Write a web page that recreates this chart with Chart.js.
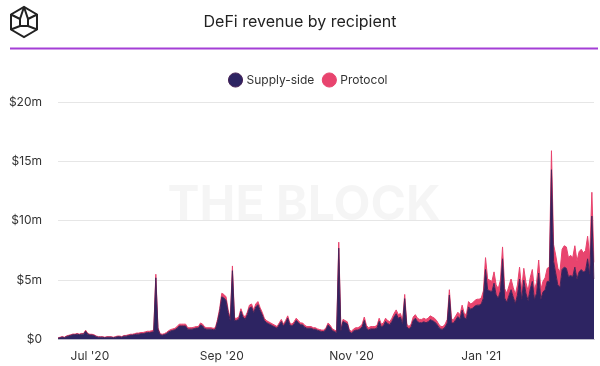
<!DOCTYPE html>
<html>
<head>
<meta charset="utf-8">
<script src="https://cdn.jsdelivr.net/npm/chart.js@4/dist/chart.umd.min.js"></script>
<style>
  html, body { margin: 0; padding: 0; background: #fff; }
  #wrap { position: relative; width: 600px; height: 366px; }
</style>
</head>
<body>
<div id="wrap"><canvas id="c" width="600" height="366"></canvas></div>
<script>
// Daily revenue in $m, starting 16 Jun 2020 (one value per day).
const START_DATE = '2020-06-16';

const supplySide = [
  // Jun 16-30
  0.11, 0.16, 0.21, 0.16, 0.26, 0.31, 0.36, 0.41, 0.41, 0.46, 0.41, 0.46, 0.46, 0.71, 0.46,
  // Jul
  0.39, 0.39, 0.34, 0.25, 0.2, 0.2, 0.2, 0.15, 0.2, 0.2, 0.2, 0.15, 0.2, 0.24, 0.24, 0.2,
  0.29, 0.29, 0.33, 0.38, 0.38, 0.42, 0.46, 0.46, 0.5, 0.5, 0.55, 0.59, 0.59, 0.63, 0.67,
  // Aug
  5.2, 0.88, 0.42, 0.37, 0.42, 0.5, 0.65, 0.73, 0.78, 0.83, 0.96, 1.15, 1.15, 1.15, 1.15, 0.88,
  0.88, 0.88, 0.92, 0.97, 0.97, 1.24, 1.15, 0.92, 0.88, 0.88, 0.88, 0.83, 0.88, 1.52, 2.35,
  // Sep
  3.6, 3.5, 3.3, 2.28, 1.62, 5.8, 1.62, 1.62, 1.72, 2.38, 1.9, 1.72, 2.1, 2.66, 2.75,
  2.28, 2.75, 2.94, 2.48, 2.1, 1.62, 1.43, 1.34, 1.25, 1.15, 1.06, 0.96, 1.25, 1.53, 1.15,
  // Oct
  1.43, 1.8, 1.24, 1.15, 1.34, 1.62, 1.43, 1.24, 1.24, 1.05, 0.96, 0.96, 0.96, 0.87, 0.87, 0.78,
  0.73, 0.68, 0.68, 0.87, 1.24, 1.05, 0.77, 0.68, 0.58, 7.7, 0.77, 1.52, 1.43, 1.33, 0.68,
  // Nov
  0.55, 0.72, 0.8, 0.8, 0.9, 1.08, 1.62, 0.98, 0.8, 0.9, 0.9, 0.9, 0.98, 1.54, 1.08,
  1.17, 1.54, 1.35, 1.26, 1.54, 1.9, 2.18, 1.8, 1.9, 1.35, 3.45, 1.08, 0.9, 1.08, 1.62,
  // Dec
  1.8, 1.52, 1.42, 1.42, 1.5, 1.42, 1.5, 1.68, 1.6, 1.5, 1.32, 1.05, 0.88, 0.88, 1.05, 1.4,
  3.75, 1.4, 1.4, 1.67, 1.94, 1.76, 2.48, 1.84, 1.75, 2.75, 2.56, 2.65, 2.82, 2.9, 2.9,
  // Jan
  3.0, 3.5, 5.9, 4.2, 4.1, 4.05, 4.75, 3.75, 3.5, 4.1, 6.8, 3.5, 3.15, 3.7, 4.2, 3.6,
  3.05, 3.75, 5.1, 3.4, 5.0, 3.9, 3.3, 4.25, 4.9, 3.4, 3.9, 5.6, 3.4, 4.0, 4.2,
  // Feb 1-23
  4.9, 4.9, 14.3, 6.6, 5.6, 4.6, 4.4, 5.9, 6.1, 6.0, 5.3, 5.4, 5.3, 6.1, 5.1, 5.7,
  5.9, 5.7, 5.8, 6.8, 5.5, 10.4, 5.1,
];

const protocol = [
  // Jun 16-30
  0.04, 0.04, 0.05, 0.04, 0.05, 0.05, 0.05, 0.06, 0.05, 0.06, 0.05, 0.06, 0.05, 0.08, 0.06,
  // Jul
  0.06, 0.06, 0.06, 0.05, 0.05, 0.05, 0.05, 0.05, 0.05, 0.05, 0.05, 0.05, 0.05, 0.06, 0.06, 0.05,
  0.06, 0.06, 0.07, 0.07, 0.07, 0.08, 0.09, 0.09, 0.1, 0.1, 0.1, 0.11, 0.11, 0.12, 0.13,
  // Aug
  0.3, 0.12, 0.08, 0.08, 0.08, 0.1, 0.1, 0.12, 0.12, 0.12, 0.14, 0.15, 0.15, 0.15, 0.15, 0.12,
  0.12, 0.12, 0.13, 0.13, 0.13, 0.16, 0.15, 0.13, 0.12, 0.12, 0.12, 0.12, 0.12, 0.18, 0.25,
  // Sep
  0.3, 0.3, 0.3, 0.22, 0.18, 0.4, 0.18, 0.18, 0.18, 0.22, 0.2, 0.18, 0.2, 0.24, 0.25,
  0.22, 0.25, 0.26, 0.22, 0.2, 0.18, 0.17, 0.16, 0.15, 0.15, 0.14, 0.14, 0.15, 0.17, 0.15,
  // Oct
  0.17, 0.2, 0.16, 0.15, 0.16, 0.18, 0.17, 0.16, 0.16, 0.15, 0.14, 0.14, 0.14, 0.13, 0.13, 0.12,
  0.12, 0.12, 0.12, 0.13, 0.16, 0.15, 0.13, 0.12, 0.12, 0.5, 0.13, 0.18, 0.17, 0.17, 0.12,
  // Nov
  0.15, 0.18, 0.2, 0.2, 0.2, 0.22, 0.28, 0.22, 0.2, 0.2, 0.2, 0.2, 0.22, 0.26, 0.22,
  0.23, 0.26, 0.25, 0.24, 0.26, 0.3, 0.32, 0.3, 0.3, 0.25, 0.35, 0.22, 0.2, 0.22, 0.28,
  // Dec
  0.3, 0.28, 0.28, 0.28, 0.3, 0.28, 0.3, 0.32, 0.3, 0.3, 0.28, 0.25, 0.22, 0.22, 0.25, 0.3,
  0.45, 0.3, 0.3, 0.33, 0.36, 0.34, 0.42, 0.36, 0.35, 0.45, 0.44, 0.45, 0.48, 0.5, 0.5,
  // Jan
  0.5, 0.6, 1.0, 0.9, 0.9, 0.85, 0.95, 0.85, 0.8, 0.9, 1.0, 0.8, 0.75, 0.8, 0.9, 0.8,
  0.75, 0.85, 1.0, 0.8, 1.0, 0.9, 0.8, 0.95, 1.0, 0.8, 0.9, 1.1, 0.8, 0.9, 1.0,
  // Feb 1-23
  1.1, 1.2, 1.6, 1.4, 1.5, 1.4, 1.3, 1.7, 1.8, 1.8, 1.6, 1.7, 1.6, 1.8, 1.5, 1.7,
  1.7, 1.6, 1.7, 1.9, 1.5, 2.0, 1.4,
];

const yTicks = [0, 5, 10, 15, 20];
const xTickMonths = [7, 9, 11, 1]; // month starts that get a label
const MONTHS = ['Jan', 'Feb', 'Mar', 'Apr', 'May', 'Jun', 'Jul', 'Aug', 'Sep', 'Oct', 'Nov', 'Dec'];

const NAVY = '#2d2462';
const PINK = '#e8446e';
const FONT = 'Inter, "Noto Sans", sans-serif';

// one ISO date per value
const dates = supplySide.map((_, i) => {
  const d = new Date(START_DATE + 'T00:00:00Z');
  d.setUTCDate(d.getUTCDate() + i);
  return d.toISOString().slice(0, 10);
});

// header: logo, title and purple rule, plus the faint watermark
const decor = {
  id: 'decor',
  beforeInit(chart) {
    // a little more room between legend and plot
    const lg = chart.legend;
    if (lg) {
      const fit = lg.fit;
      lg.fit = function () { fit.call(this); this.height += 6; };
    }
  },
  afterLayout(chart) {
    // legend sits slightly right of the canvas centre in the original
    if (chart.legend) { chart.legend.left += 12; chart.legend.right += 12; }
  },
  beforeDatasetsDraw(chart) {
    const { ctx } = chart;
    ctx.save();
    ctx.fillStyle = 'rgba(0,0,0,0.04)';
    ctx.font = 'bold 48px ' + FONT;
    ctx.textAlign = 'center';
    ctx.textBaseline = 'middle';
    ctx.fillText('THE BLOCK', 304, 206);
    ctx.restore();
  },
  afterDraw(chart) {
    const { ctx } = chart;
    ctx.save();
    ctx.fillStyle = '#222';
    ctx.font = '16px ' + FONT;
    ctx.textAlign = 'center';
    ctx.textBaseline = 'middle';
    ctx.fillText('DeFi revenue by recipient', 300, 22);

    ctx.strokeStyle = '#a43fd6';
    ctx.lineWidth = 2;
    ctx.beginPath();
    ctx.moveTo(10, 48.5);
    ctx.lineTo(598, 48.5);
    ctx.stroke();

    // cube logo
    const cx = 24, cy = 22, r = 15;
    ctx.strokeStyle = '#222';
    ctx.lineWidth = 2;
    ctx.beginPath();
    for (let k = 0; k < 6; k++) {
      const a = Math.PI / 6 + k * Math.PI / 3;
      const px = cx + r * Math.cos(a), py = cy + r * Math.sin(a);
      k ? ctx.lineTo(px, py) : ctx.moveTo(px, py);
    }
    ctx.closePath();
    ctx.stroke();
    ctx.beginPath();
    ctx.moveTo(cx, cy - r); ctx.lineTo(cx - 4, cy - 3);
    ctx.moveTo(cx, cy - r); ctx.lineTo(cx + 4, cy - 3);
    ctx.moveTo(cx - r * 0.87, cy - r / 2); ctx.lineTo(cx - 4, cy - 3);
    ctx.moveTo(cx + r * 0.87, cy - r / 2); ctx.lineTo(cx + 4, cy - 3);
    ctx.moveTo(cx - 4, cy - 3); ctx.lineTo(cx - 4, cy + 4); ctx.lineTo(cx + 4, cy + 4); ctx.lineTo(cx + 4, cy - 3);
    ctx.moveTo(cx - 4, cy + 4); ctx.lineTo(cx - r * 0.87, cy + r / 2);
    ctx.moveTo(cx + 4, cy + 4); ctx.lineTo(cx + r * 0.87, cy + r / 2);
    ctx.stroke();
    ctx.restore();
  },
};

new Chart(document.getElementById('c'), {
  type: 'line',
  data: {
    labels: dates,
    datasets: [
      {
        label: 'Supply-side',
        data: supplySide,
        backgroundColor: NAVY,
        borderColor: '#4a2458',
        borderWidth: 1,
        fill: 'origin',
        pointRadius: 0,
        pointStyle: 'circle',
        tension: 0,
      },
      {
        label: 'Protocol',
        data: protocol,
        backgroundColor: PINK,
        borderColor: PINK,
        borderWidth: 1,
        fill: '-1',
        pointRadius: 0,
        pointStyle: 'circle',
        tension: 0,
      },
    ],
  },
  options: {
    responsive: false,
    animation: false,
    layout: { padding: { top: 64, right: 6, left: 0, bottom: 0 } },
    plugins: {
      legend: {
        position: 'top',
        labels: {
          usePointStyle: true,
          boxWidth: 10,
          boxHeight: 10,
          padding: 10,
          color: '#333',
          font: { family: FONT, size: 12 },
        },
      },
      tooltip: { enabled: false },
    },
    scales: {
      x: {
        grid: { display: false },
        border: { display: true, color: '#cfcfd6' },
        ticks: {
          autoSkip: false,
          maxRotation: 0,
          color: '#333',
          font: { family: FONT, size: 12 },
          padding: 2,
          callback(value) {
            const iso = this.getLabelForValue(value);
            const m = +iso.slice(5, 7);
            if (iso.slice(8, 10) !== '01' || !xTickMonths.includes(m)) return null;
            return MONTHS[m - 1] + " '" + iso.slice(2, 4);
          },
        },
      },
      y: {
        stacked: true,
        min: 0,
        max: 20,
        afterFit(axis) { axis.width = 58; },
        afterBuildTicks(axis) { axis.ticks = yTicks.map((v) => ({ value: v })); },
        grid: { color: '#e6e6e6', drawTicks: false },
        border: { display: false },
        ticks: {
          color: '#333',
          padding: 16,
          font: { family: FONT, size: 12 },
          callback: (v) => (v === 0 ? '$0' : '$' + v + 'm'),
        },
      },
    },
  },
  plugins: [decor],
});
</script>
</body>
</html>
